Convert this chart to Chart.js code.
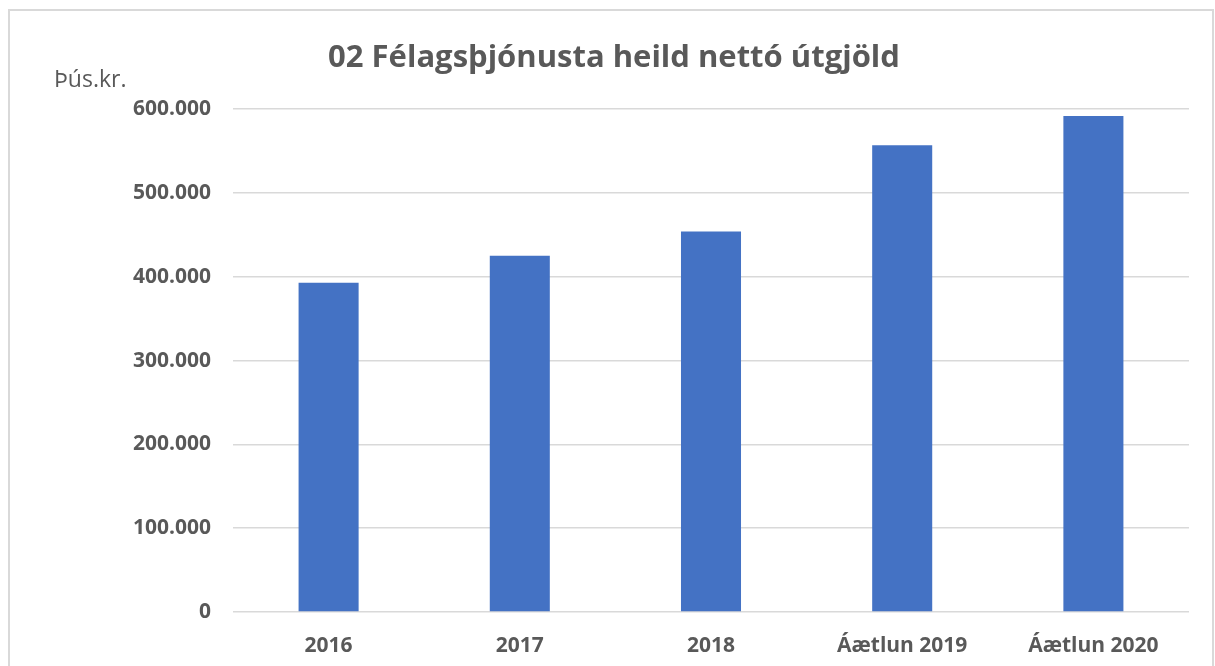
<!DOCTYPE html>
<html>
<head>
<meta charset="utf-8">
<script src="https://cdn.jsdelivr.net/npm/chart.js@4"></script>
<style>
  body { margin: 0; background: #fff; }
  #wrap { position: relative; width: 1215px; height: 666px; overflow: hidden; }
  #frame { position: absolute; left: 8px; top: 9px; width: 1202px; height: 700px; border: 2px solid #d9d9d9; }
  canvas { position: absolute; left: 0; top: 0; }
</style>
</head>
<body>
<div id="wrap">
  <div id="frame"></div>
  <canvas id="chart" width="1215" height="666"></canvas>
</div>
<script>
// data, þús.kr.
let categories = ['2016', '2017', '2018', 'Áætlun 2019', 'Áætlun 2020'];
let netExpenses = [393000, 425000, 454000, 557000, 592000];
let unitLabel = 'Þús.kr.';
let chartTitle = '02 Félagsþjónusta heild nettó útgjöld';

let textColor = '#595959';

// small plugin to draw the unit text in the top left corner
const unitPlugin = {
	id: 'unitText',
	afterDraw(chart) {
		let ctx = chart.ctx;
		ctx.save();
		ctx.font = '23px "Open Sans"';
		ctx.fillStyle = textColor;
		ctx.textAlign = 'left';
		ctx.textBaseline = 'alphabetic';
		ctx.fillText(unitLabel, 54, 87);
		ctx.restore();
	}
};

function configureChart(){
	var ctx = document.getElementById('chart').getContext('2d');
	new Chart(ctx, {
		type: 'bar',
		data: {
			labels: categories,
			datasets: [{
				label: 'Nettó útgjöld',
				data: netExpenses,
				backgroundColor: '#4472c4',
				borderWidth: 0,
				categoryPercentage: 1,
				barPercentage: 0.314
			}]
		},
		options: {
			responsive: false,
			animation: false,
			// left padding shifts the title centre to where it sits in the original
			layout: { padding: { left: 39, right: 26, top: 0, bottom: 0 } },
			plugins: {
				legend: { display: false },
				tooltip: { enabled: false },
				title: {
					display: true,
					text: chartTitle,
					color: textColor,
					font: { family: 'Open Sans', size: 31, weight: 'bold' },
					padding: { top: 40, bottom: 32 }
				}
			},
			scales: {
				x: {
					grid: { display: false },
					border: { display: false },
					ticks: {
						color: textColor,
						font: { family: 'Open Sans', size: 21, weight: 'bold' },
						padding: 13
					},
					afterFit(scale) { scale.height = 54; }
				},
				y: {
					min: 0,
					max: 600000,
					border: { display: false },
					grid: { color: '#d9d9d9', lineWidth: 1.5, drawTicks: false },
					ticks: {
						stepSize: 100000,
						color: textColor,
						padding: 22,
						font: { family: 'Open Sans', size: 21, weight: 'bold' },
						callback: (v) => v.toLocaleString('de-DE')
					},
					afterFit(scale) { scale.width = 194; }
				}
			}
		},
		plugins: [unitPlugin]
	});
}

window.onload = function(){
	configureChart();
}
</script>
</body>
</html>
